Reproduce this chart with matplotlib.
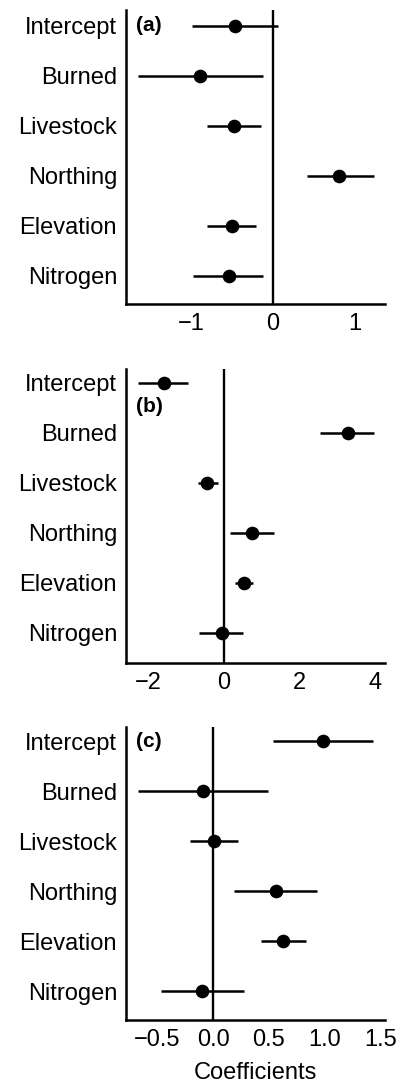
import numpy as np
import matplotlib
matplotlib.use('Agg')
import matplotlib.pyplot as plt

plt.rcParams['font.family'] = ['Liberation Sans', 'DejaVu Sans']

labels = ['Intercept', 'Burned', 'Livestock', 'Northing', 'Elevation', 'Nitrogen']

# panel (a)
est_a = [-0.47, -0.90, -0.48, 0.81, -0.50, -0.54]
lo_a = [-0.99, -1.66, -0.81, 0.42, -0.81, -0.98]
hi_a = [0.06, -0.13, -0.15, 1.23, -0.21, -0.12]

# panel (b)
est_b = [-1.60, 3.28, -0.44, 0.73, 0.52, -0.04]
lo_b = [-2.27, 2.53, -0.68, 0.15, 0.28, -0.65]
hi_b = [-0.94, 3.97, -0.17, 1.31, 0.78, 0.49]

# panel (c)
est_c = [0.98, -0.09, 0.01, 0.56, 0.63, -0.10]
lo_c = [0.54, -0.67, -0.21, 0.19, 0.43, -0.47]
hi_c = [1.43, 0.49, 0.22, 0.93, 0.83, 0.28]

panels = [
    ('(a)', est_a, lo_a, hi_a, (-1.80, 1.37), [-1, 0, 1], ['\u22121', '0', '1'],
     [0.316, 0.7196, 0.649, 0.2712], (-0.32, 5.56), 0.0),
    ('(b)', est_b, lo_b, hi_b, (-2.59, 4.26), [-2, 0, 2, 4], ['\u22122', '0', '2', '4'],
     [0.316, 0.3884, 0.649, 0.2712], (-0.28, 5.6), 0.48),
    ('(c)', est_c, lo_c, hi_c, (-0.78, 1.54), [-0.5, 0, 0.5, 1.0, 1.5],
     ['\u22120.5', '0.0', '0.5', '1.0', '1.5'],
     [0.316, 0.059, 0.649, 0.2703], (-0.28, 5.58), 0.0),
]

fig = plt.figure(figsize=(3.99, 10.84), dpi=100)

for tag, est, lo, hi, xlim, ticks, ticklabels, rect, ylim, tag_y in panels:
    ax = fig.add_axes(rect)
    y = np.arange(len(labels))
    est = np.array(est)
    err = np.array([est - np.array(lo), np.array(hi) - est])
    ax.axvline(0, color='black', lw=1.7, zorder=1)
    ax.errorbar(est, y, xerr=err, fmt='o', color='black', ms=8.8,
                elinewidth=1.8, capsize=0, zorder=3)
    ax.set_xlim(xlim)
    ax.set_ylim(ylim[1], ylim[0])
    ax.set_yticks(y)
    ax.set_yticklabels(labels, fontsize=17)
    ax.set_xticks(ticks)
    ax.set_xticklabels(ticklabels, fontsize=17)
    ax.tick_params(length=0, pad=6.5)
    for s in ['top', 'right']:
        ax.spines[s].set_visible(False)
    for s in ['left', 'bottom']:
        ax.spines[s].set_linewidth(1.8)
    ax.text(10 / (0.649 * 399), tag_y, tag, transform=ax.get_yaxis_transform(),
            fontsize=15, fontweight='bold', va='center', ha='left')
    if tag == '(c)':
        ax.set_xlabel('Coefficients', fontsize=17, labelpad=8)

fig.savefig('out.png', dpi=100)
